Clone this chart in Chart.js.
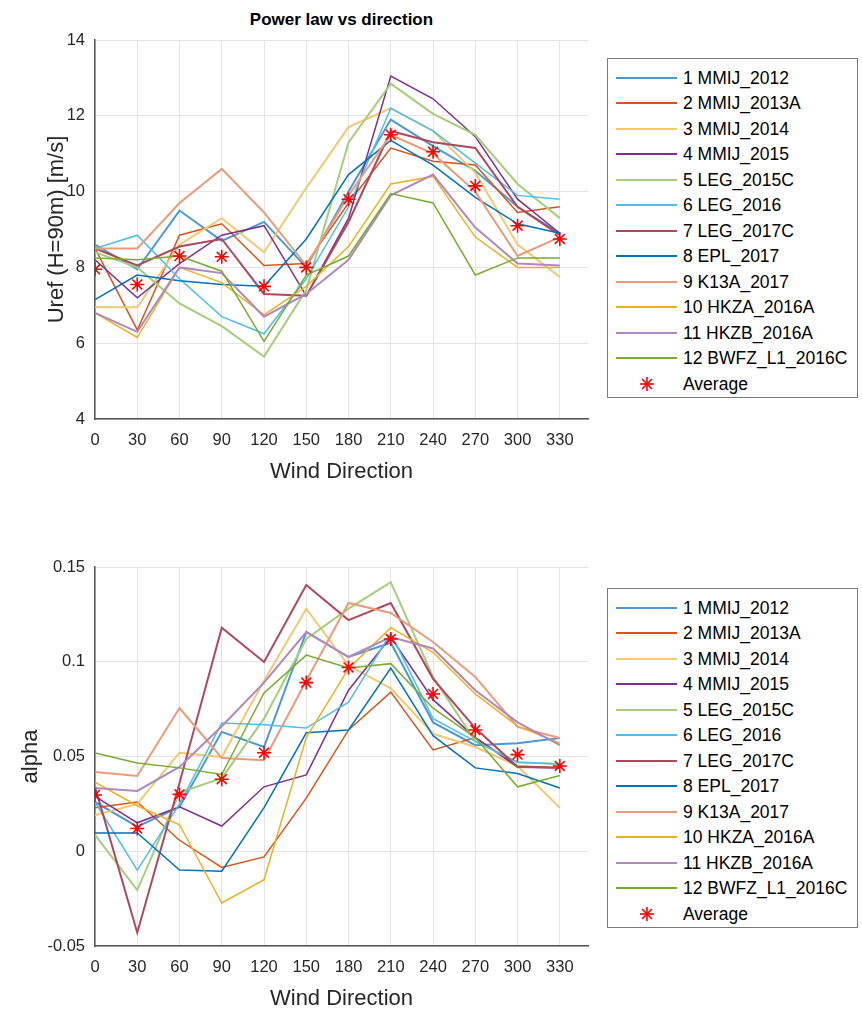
<!DOCTYPE html>
<html><head><meta charset="utf-8">
<script src="https://cdn.jsdelivr.net/npm/chart.js@4"></script>
<style>
body{margin:0;background:#fff;width:862px;height:1012px;position:relative;overflow:hidden;font-family:"Liberation Sans",Arial,Helvetica,sans-serif;color:#262626;}
canvas{position:absolute;left:0;}
#title{position:absolute;left:95px;width:493px;top:10px;text-align:center;font-weight:bold;font-size:17px;color:#000;}
.legend{position:absolute;left:607px;width:251px;border:1.5px solid #7a7a7a;box-sizing:border-box;background:#fff;}
.row{position:absolute;left:0;width:100%;height:24px;}
.sample{position:absolute;left:8px;width:61px;}
.ltext{position:absolute;left:75px;top:0;line-height:24px;font-size:17.5px;color:#000;white-space:nowrap;}
</style></head>
<body>
<div id="title">Power law vs direction</div>
<canvas id="c1" width="600" height="500" style="top:0px"></canvas>
<canvas id="c2" width="600" height="492" style="top:520px"></canvas>
<div id="leg1" class="legend" style="top:58px;height:340px"></div>
<div id="leg2" class="legend" style="top:588px;height:340px"></div>
<script>
const directions=[0,30,60,90,120,150,180,210,240,270,300,330];
const seriesNames=['1 MMIJ_2012','2 MMIJ_2013A','3 MMIJ_2014','4 MMIJ_2015','5 LEG_2015C','6 LEG_2016','7 LEG_2017C','8 EPL_2017','9 K13A_2017','10 HKZA_2016A','11 HKZB_2016A','12 BWFZ_L1_2016C'];
const averageName='Average';

const urefValues=[
 [8.6,7.95,9.5,8.7,9.2,8.0,10.0,11.9,11.2,10.55,9.6,8.9],
 [8.5,6.35,8.85,9.15,8.05,8.1,9.7,11.15,10.8,10.7,9.45,9.6],
 [6.95,6.95,8.6,9.3,8.4,10.1,11.7,12.2,11.6,10.5,8.6,7.75],
 [8.2,7.2,8.1,8.85,9.1,7.25,9.3,13.05,12.45,11.45,9.8,8.9],
 [8.4,8.0,7.05,6.45,5.65,7.4,11.3,12.85,12.05,11.5,10.2,9.3],
 [8.5,8.85,7.7,6.7,6.25,7.7,9.6,12.2,11.6,10.75,9.9,9.8],
 [8.5,8.05,8.55,8.75,7.3,7.25,9.2,11.6,11.3,11.15,9.6,8.85],
 [7.15,7.8,7.65,7.55,7.5,8.75,10.45,11.35,10.7,9.85,9.15,8.9],
 [8.5,8.5,9.7,10.6,9.45,8.05,9.9,11.5,11.0,10.0,8.3,8.8],
 [6.8,6.15,8.0,7.6,6.75,7.5,8.55,10.2,10.4,8.8,8.0,8.0],
 [6.8,6.3,8.0,7.85,6.7,7.3,8.2,9.9,10.45,9.05,8.1,8.05],
 [8.25,8.2,8.3,7.9,6.05,7.8,8.3,9.95,9.7,7.8,8.25,8.25]
];
const urefAverage=[7.95,7.55,8.3,8.28,7.5,8.0,9.8,11.5,11.05,10.15,9.1,8.75];

const alphaValues=[
 [0.026,0.013,0.0234,0.063,0.055,0.1157,0.1025,0.110,0.068,0.056,0.057,0.0598],
 [0.023,0.026,0.0058,-0.0085,-0.003,0.028,0.064,0.084,0.0535,0.06,0.045,0.044],
 [0.019,0.025,0.052,0.0497,0.09,0.128,0.098,0.086,0.062,0.055,0.045,0.023],
 [0.029,0.015,0.0234,0.0133,0.034,0.0403,0.085,0.113,0.08,0.06,0.0445,0.044],
 [0.0087,-0.0205,0.031,0.0386,0.07,0.112,0.128,0.142,0.092,0.058,0.047,0.046],
 [0.026,-0.010,0.025,0.0677,0.0667,0.065,0.0787,0.115,0.07,0.058,0.047,0.046],
 [0.034,-0.043,0.036,0.118,0.0999,0.1405,0.122,0.131,0.091,0.065,0.0445,0.044],
 [0.0096,0.0096,-0.0099,-0.0105,0.023,0.0625,0.064,0.0967,0.061,0.044,0.041,0.0334],
 [0.0418,0.0397,0.0756,0.0492,0.048,0.09,0.131,0.1257,0.1104,0.092,0.0656,0.0598],
 [0.0365,0.024,0.014,-0.0273,-0.015,0.06,0.0965,0.118,0.105,0.083,0.066,0.057],
 [0.0334,0.0318,0.0445,0.066,0.089,0.1157,0.1025,0.113,0.107,0.085,0.068,0.056],
 [0.0518,0.0466,0.044,0.0405,0.0835,0.1035,0.0967,0.099,0.0755,0.06,0.034,0.040]
];
const alphaAverage=[0.0297,0.012,0.030,0.038,0.052,0.089,0.097,0.112,0.083,0.064,0.051,0.045];

const urefTicks=[4,6,8,10,12,14];
const alphaTicks=[-0.05,0,0.05,0.1,0.15];

const lineColors=['#4a98d4','#D95319','#F2C96E','#7E2F8E','#A5CD7A','#4DBEEE','#B0475C','#0072BD','#EB9B78','#EDB120','#B088BE','#77AC30'];
const lineWidths=[2,1.5,2,1.5,2,1.5,2,1.5,2,1.5,2,1.5];

Chart.defaults.font.family='"Liberation Sans", Arial, Helvetica, sans-serif';
Chart.defaults.color='#262626';

function makeChart(id, values, avg, ticks, yTitle, o){
  const n=values.length;
  const datasets=values.map((vals,i)=>({
    label:seriesNames[i],
    data:directions.map((d,j)=>({x:d,y:vals[j]})),
    borderColor:lineColors[i], backgroundColor:lineColors[i],
    borderWidth:lineWidths[i], pointRadius:0, fill:false, tension:0,
    order:n-i+1
  }));
  datasets.push({
    label:averageName,
    data:directions.map((d,j)=>({x:d,y:avg[j]})),
    showLine:false, pointStyle:'star', pointRadius:7,
    borderColor:'#ff0000', backgroundColor:'#ff0000', pointBorderWidth:1.6, borderWidth:1.6, order:0
  });
  const gridStyle={color:'#e4e4e4',lineWidth:1,drawTicks:false};
  return new Chart(document.getElementById(id),{
    type:'line',
    data:{datasets},
    options:{
      responsive:false, animation:false, devicePixelRatio:1,
      layout:{padding:{top:o.padTop,right:12,bottom:0,left:0}},
      plugins:{legend:{display:false},tooltip:{enabled:false},title:{display:false}},
      scales:{
        x:{type:'linear',min:0,max:350,
          afterBuildTicks:ax=>{ax.ticks=directions.map(v=>({value:v}));},
          afterFit:ax=>{ax.height=o.xAxisH;},
          ticks:{padding:12,font:{size:16.5},color:'#262626',maxRotation:0,autoSkip:false,callback:v=>String(v)},
          grid:gridStyle, border:{color:'#555',width:1.5},
          title:{display:true,text:'Wind Direction',font:{size:22},color:'#262626',padding:{top:0,bottom:o.xTitlePad}}
        },
        y:{type:'linear',min:ticks[0],max:ticks[ticks.length-1],
          afterBuildTicks:ax=>{ax.ticks=ticks.map(v=>({value:v}));},
          afterFit:ax=>{ax.width=95;},
          ticks:{padding:10,font:{size:16.5},color:'#262626',callback:v=>String(+(+v).toFixed(2))},
          grid:gridStyle, border:{color:'#555',width:1.5},
          title:{display:true,text:yTitle,font:{size:22},color:'#262626',padding:{top:o.yTitlePad,bottom:0}}
        }
      }
    }
  });
}

makeChart('c1',urefValues,urefAverage,urefTicks,'Uref (H=90m) [m/s]',{padTop:40,xAxisH:81,xTitlePad:15,yTitlePad:44});
makeChart('c2',alphaValues,alphaAverage,alphaTicks,'alpha',{padTop:47,xAxisH:66,xTitlePad:0,yTitlePad:18});

function buildLegend(id){
  const box=document.getElementById(id);
  const names=seriesNames.concat([averageName]);
  names.forEach((name,i)=>{
    const row=document.createElement('div');
    row.className='row';
    row.style.top=Math.round(6.5+i*25.5)+'px';
    if(i<seriesNames.length){
      const s=document.createElement('div');
      s.className='sample';
      const w=Math.round(lineWidths[i]);
      s.style.height=w+'px';
      s.style.top=(12-Math.ceil(w/2))+'px';
      s.style.background=lineColors[i];
      row.appendChild(s);
    } else {
      const svg='<svg width="16" height="16" viewBox="-8 -8 16 16" style="position:absolute;left:31px;top:4px"><g stroke="#ff0000" stroke-width="1.6"><line x1="0" y1="-7" x2="0" y2="7"/><line x1="-7" y1="0" x2="7" y2="0"/><line x1="-5" y1="-5" x2="5" y2="5"/><line x1="-5" y1="5" x2="5" y2="-5"/></g></svg>';
      row.insertAdjacentHTML('beforeend',svg);
    }
    const t=document.createElement('div');
    t.className='ltext';
    t.textContent=name;
    row.appendChild(t);
    box.appendChild(row);
  });
}
buildLegend('leg1');
buildLegend('leg2');
</script>
</body></html>
